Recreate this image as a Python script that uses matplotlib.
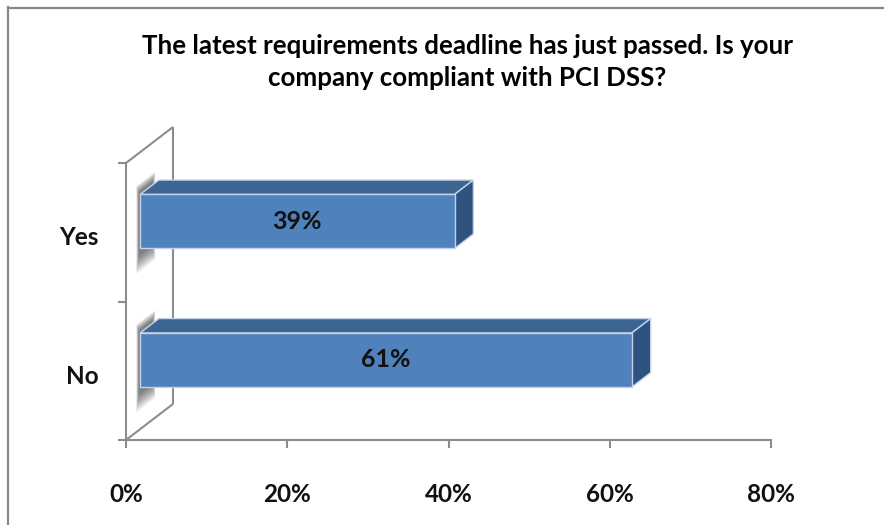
import matplotlib
matplotlib.use('Agg')
import matplotlib.pyplot as plt
from matplotlib.lines import Line2D

# survey answers
categories = ['No', 'Yes']
values = [61, 39]
value_labels = ['61%', '39%']
x_ticks = [0, 20, 40, 60, 80]
x_tick_labels = ['0%', '20%', '40%', '60%', '80%']
title = 'The latest requirements deadline has just passed. Is your\ncompany compliant with PCI DSS?'

# fake 3D settings (depth offset of the wall, in data units)
DX, DY = 5.83, 0.26
Z0, Z1 = 0.3, 0.7
BAR_H = 0.39
FONT = 'Lato'

FRONT = '#4f81bd'
TOP = '#3d6594'
SIDE = '#2f5381'
EDGE = '#c5d3e8'
AXIS = '#8c8c8c'


def proj(x, y, z):
    return x + z * DX, y + z * DY


def face(ax, pts, color, zorder):
    xs, ys = zip(*[proj(*p) for p in pts])
    ax.fill(xs, ys, facecolor=color, edgecolor=EDGE, linewidth=1.0,
            zorder=zorder, clip_on=False)


fig = plt.figure(figsize=(8.84, 5.25), dpi=100)
ax = fig.add_axes([126 / 884, 85 / 525, 645 / 884, 277 / 525])
ax.set_xlim(0, 80)
ax.set_ylim(-0.5, 1.5)

# walls
ymin, ymax = -0.5, len(categories) - 0.5
for a, b in [((0, ymin, 1), (0, ymax, 1)),
             ((0, ymax, 0), (0, ymax, 1)),
             ((0, ymin, 0), (0, ymin, 1))]:
    p, q = proj(*a), proj(*b)
    ax.plot([p[0], q[0]], [p[1], q[1]], color=AXIS, lw=1.5, zorder=1,
            clip_on=False, solid_capstyle='butt')

# bars
for i, (v, lab) in enumerate(zip(values, value_labels)):
    lo, hi = i - BAR_H / 2, i + BAR_H / 2
    # soft shadow on the wall
    for k in range(7):
        g = 0.018 * k
        face_pts = [(0, lo - 0.16 + g, Z0 - 0.08 + g / 2),
                    (0, hi + 0.08 - g / 2, Z0 - 0.08 + g / 2),
                    (0, hi + 0.08 - g / 2, Z1 - 0.08 - g / 2),
                    (0, lo - 0.16 + g, Z1 - 0.08 - g / 2)]
        xs, ys = zip(*[proj(*p) for p in face_pts])
        ax.fill(xs, ys, facecolor='#000000', alpha=0.09, lw=0, zorder=2,
                clip_on=False)
    face(ax, [(0, hi, Z0), (v, hi, Z0), (v, hi, Z1), (0, hi, Z1)], TOP, 3)
    face(ax, [(v, lo, Z0), (v, hi, Z0), (v, hi, Z1), (v, lo, Z1)], SIDE, 3)
    face(ax, [(0, lo, Z0), (v, lo, Z0), (v, hi, Z0), (0, hi, Z0)], FRONT, 4)
    tx, ty = proj(v / 2, i, Z0)
    ax.text(tx, ty, lab, ha='center', va='center', fontsize=18,
            fontweight='bold', family=FONT, color='#111111', zorder=5)
    ax.text(-3.35, i - 0.04, categories[i], ha='right', va='center',
            fontsize=17.5, fontweight='bold', family=FONT, color='#111111',
            clip_on=False)

for s in ['top', 'right']:
    ax.spines[s].set_visible(False)
for s in ['left', 'bottom']:
    ax.spines[s].set_color(AXIS)
    ax.spines[s].set_linewidth(1.5)
ax.set_yticks([ymin + k for k in range(len(categories) + 1)])
ax.set_yticklabels([])
ax.tick_params(axis='y', length=6, width=1.5, color=AXIS)
ax.set_xticks(x_ticks)
ax.set_xticklabels(x_tick_labels, fontsize=17.5, fontweight='bold',
                   family=FONT, color='#111111')
ax.tick_params(axis='x', length=6, width=1.5, color=AXIS, pad=25)
ax.patch.set_visible(False)

fig.text(467 / 884, 1 - 62 / 525, title, ha='center', va='center',
         fontsize=18.6, fontweight='bold', family=FONT, linespacing=1.35)

# chart frame (top and left edges visible)
fig.add_artist(Line2D([8 / 884, 8 / 884], [0, 1 - 7 / 525], color='#888888',
                      lw=1.6, transform=fig.transFigure))
fig.add_artist(Line2D([8 / 884, 1], [1 - 7.5 / 525, 1 - 7.5 / 525],
                      color='#888888', lw=1.6, transform=fig.transFigure))

fig.savefig('out.png', dpi=100, facecolor='white')
